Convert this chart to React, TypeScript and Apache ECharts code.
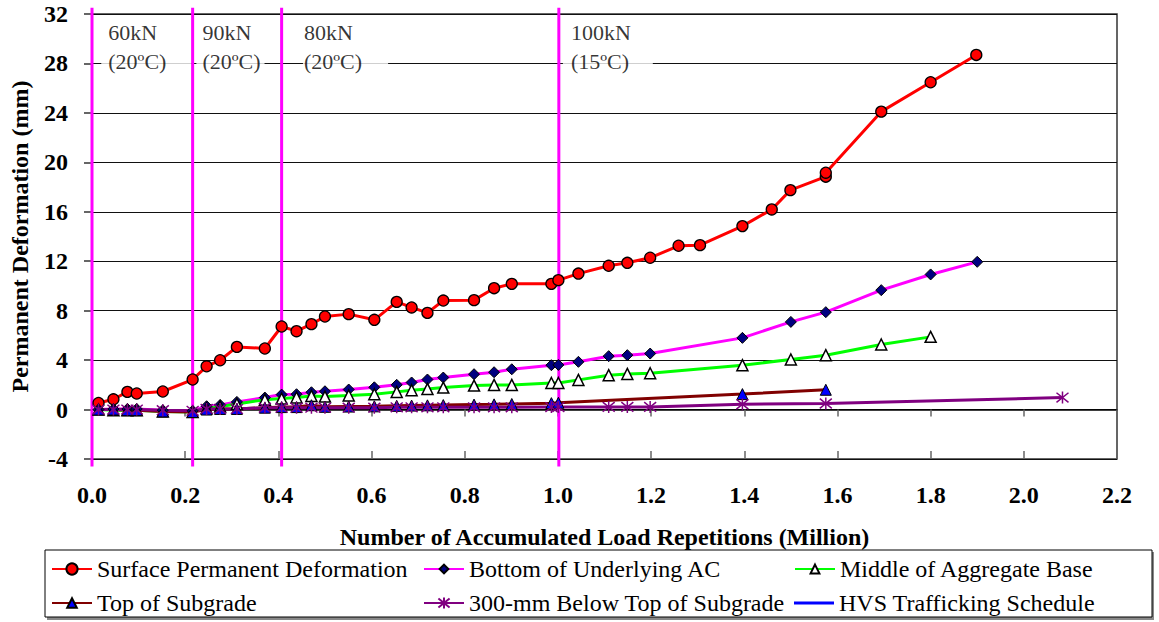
import React, { useEffect, useRef } from "react";
import * as echarts from "echarts";

const FONT = "Liberation Serif";

// Accumulated load repetitions (million)
const surfaceX = [0.014, 0.046, 0.076, 0.096, 0.152, 0.216, 0.246, 0.275, 0.311, 0.371, 0.407, 0.439, 0.471, 0.5, 0.551, 0.606, 0.654, 0.686, 0.72, 0.754, 0.82, 0.863, 0.901, 0.986, 1.001, 1.044, 1.109, 1.149, 1.198, 1.259, 1.305, 1.396, 1.459, 1.499, 1.575, 1.575, 1.694, 1.8, 1.898];
const surfaceY = [0.53, 0.83, 1.43, 1.3, 1.46, 2.43, 3.5, 3.99, 5.07, 4.94, 6.72, 6.34, 6.91, 7.53, 7.72, 7.26, 8.71, 8.26, 7.82, 8.82, 8.85, 9.82, 10.17, 10.17, 10.47, 11.0, 11.63, 11.87, 12.28, 13.25, 13.3, 14.84, 16.19, 17.75, 18.84, 19.16, 24.1, 26.48, 28.69];

const acX = [0.014, 0.046, 0.076, 0.096, 0.152, 0.216, 0.246, 0.275, 0.311, 0.371, 0.407, 0.439, 0.471, 0.5, 0.551, 0.606, 0.654, 0.686, 0.72, 0.754, 0.82, 0.863, 0.901, 0.986, 1.001, 1.044, 1.109, 1.149, 1.198, 1.396, 1.5, 1.575, 1.694, 1.8, 1.9];
const acY = [0.0, 0.05, 0.05, 0.05, -0.05, -0.1, 0.27, 0.37, 0.62, 0.97, 1.21, 1.24, 1.4, 1.48, 1.62, 1.8, 2.0, 2.19, 2.43, 2.59, 2.86, 3.02, 3.26, 3.59, 3.61, 3.86, 4.32, 4.4, 4.53, 5.8, 7.09, 7.88, 9.66, 10.93, 11.95];

const baseX = [0.014, 0.046, 0.076, 0.096, 0.152, 0.216, 0.246, 0.275, 0.311, 0.371, 0.407, 0.439, 0.471, 0.5, 0.551, 0.606, 0.654, 0.686, 0.72, 0.754, 0.82, 0.863, 0.901, 0.986, 1.001, 1.044, 1.109, 1.149, 1.198, 1.396, 1.5, 1.575, 1.694, 1.8];
const baseY = [0.0, -0.05, -0.05, -0.05, -0.15, -0.2, 0.1, 0.25, 0.45, 0.8, 0.89, 0.98, 1.1, 1.05, 1.14, 1.24, 1.43, 1.56, 1.67, 1.78, 1.94, 1.99, 1.99, 2.15, 2.15, 2.4, 2.78, 2.88, 2.94, 3.59, 4.05, 4.4, 5.26, 5.88];

const subgradeX = [0.014, 0.046, 0.076, 0.096, 0.152, 0.216, 0.246, 0.275, 0.311, 0.371, 0.407, 0.439, 0.471, 0.5, 0.551, 0.606, 0.654, 0.686, 0.72, 0.754, 0.82, 0.863, 0.901, 0.986, 1.001, 1.396, 1.575];
const subgradeY = [0.0, 0.0, -0.05, -0.05, -0.15, -0.2, 0.0, 0.05, 0.05, 0.15, 0.2, 0.2, 0.35, 0.22, 0.24, 0.26, 0.3, 0.32, 0.34, 0.36, 0.4, 0.42, 0.45, 0.52, 0.55, 1.25, 1.6];

const deepX = [0.014, 0.046, 0.076, 0.096, 0.152, 0.216, 0.246, 0.275, 0.311, 0.371, 0.407, 0.439, 0.471, 0.5, 0.551, 0.606, 0.654, 0.686, 0.72, 0.754, 0.82, 0.863, 0.901, 0.986, 1.001, 1.109, 1.149, 1.198, 1.396, 1.575, 2.083];
const deepY = [0.0, 0.0, 0.0, 0.0, -0.05, -0.1, 0.05, 0.05, 0.05, 0.15, 0.15, 0.15, 0.15, 0.15, 0.15, 0.15, 0.18, 0.18, 0.18, 0.18, 0.18, 0.18, 0.18, 0.2, 0.2, 0.21, 0.21, 0.21, 0.43, 0.49, 0.97];

// HVS trafficking schedule (load changes)
const scheduleX = [0.0, 0.216, 0.407, 1.002];
const scheduleSpan = [-4.6, 32.5];
const scheduleLabels = ["60kN\n(20ºC)", "90kN\n(20ºC)", "80kN\n(20ºC)", "100kN\n(15ºC)"];
const scheduleLabelX = [0.036, 0.238, 0.456, 1.029];
const scheduleLabelY = 29.3;

const xTicks = { min: 0, max: 2.2, interval: 0.2 };
const yTicks = { min: -4, max: 32, interval: 4 };

const NAMES = [
  "Surface Permanent Deformation",
  "Bottom of Underlying AC",
  "Middle of Aggregate Base",
  "Top of Subgrade",
  "300-mm Below Top of Subgrade",
  "HVS Trafficking Schedule",
];

const STAR = "path://M5,0L5,10M1,1L9,9M1,9L9,1";

const pairs = (xs: number[], ys: number[]) => xs.map((x, i) => [x, ys[i]]);

export default function App() {
  const ref = useRef<HTMLDivElement>(null);
  useEffect(() => {
    const chart = echarts.init(ref.current!, null, { renderer: "svg" });

    const scheduleData: any[] = [];
    scheduleX.forEach((x) => {
      scheduleData.push([x, scheduleSpan[0]], [x, scheduleSpan[1]], [x, "-"]);
    });

    const boxPad = [
      [2, 25, 2, 7],
      [2, 4, 2, 6],
      [2, 26, 2, 1],
      [2, 22, 2, 8],
    ];

    const lineSeries = (name: string, data: any[], color: string, symbol: string, symbolSize: number, itemStyle: any) => ({
      type: "line",
      name,
      data,
      xAxisIndex: 0,
      symbol,
      symbolSize,
      showAllSymbol: true,
      lineStyle: { color, width: 3 },
      itemStyle,
      emphasis: { disabled: true },
      z: 3,
    });

    const legendText = { fontFamily: FONT, fontSize: 24, color: "#000", lineHeight: 24 };
    const mkLegend = (name: string, left: number, top: number, extra: any = {}) => ({
      data: [name],
      left,
      top,
      padding: 0,
      itemWidth: 40,
      itemHeight: 14,
      textStyle: legendText,
      selectedMode: false,
      ...extra,
    });

    const option: any = {
      animation: false,
      backgroundColor: "#fff",
      textStyle: { fontFamily: FONT },
      grid: {
        left: 90,
        right: 42,
        top: 14,
        bottom: 163,
        show: true,
        borderColor: "#333",
        borderWidth: 1.5,
      },
      xAxis: [
        {
          type: "value",
          ...xTicks,
          axisLine: { show: true, lineStyle: { color: "#000", width: 1.5 } },
          axisTick: { show: true, length: 7, lineStyle: { color: "#666", width: 1.5 } },
          axisLabel: {
            fontFamily: FONT,
            fontSize: 24,
            fontWeight: "bold",
            color: "#000",
            margin: 24,
            formatter: (v: number) => v.toFixed(1),
          },
          splitLine: { show: false },
          name: "Number of Accumulated Load Repetitions (Million)",
          nameLocation: "middle",
          nameGap: 66,
          nameTextStyle: { fontFamily: FONT, fontSize: 24, fontWeight: "bold", color: "#000" },
        },
        {
          type: "value",
          ...xTicks,
          position: "bottom",
          axisLine: { show: false },
          axisTick: { show: true, inside: true, length: 8, lineStyle: { color: "#666", width: 1.5 } },
          axisLabel: { show: false },
          splitLine: { show: false },
        },
      ],
      yAxis: {
        type: "value",
        ...yTicks,
        axisLine: { show: true, lineStyle: { color: "#000", width: 1 } },
        axisTick: { show: true, length: 8, lineStyle: { color: "#333", width: 1.5 } },
        axisLabel: {
          fontFamily: FONT,
          fontSize: 24,
          fontWeight: "bold",
          color: "#000",
          margin: 24,
        },
        splitLine: { show: true, lineStyle: { color: "#111", width: 1 } },
        name: "Permanent Deformation (mm)",
        nameLocation: "middle",
        nameGap: 60,
        nameTextStyle: { fontFamily: FONT, fontSize: 24, fontWeight: "bold", color: "#000" },
      },
      legend: [
        mkLegend(NAMES[0], 51, 557),
        mkLegend(NAMES[1], 423, 557, { itemHeight: 11 }),
        mkLegend(NAMES[2], 794, 557, { itemHeight: 11 }),
        mkLegend(NAMES[3], 51, 591, { itemHeight: 12 }),
        mkLegend(NAMES[4], 423, 591),
        mkLegend(NAMES[5], 794, 591, { icon: "rect", itemHeight: 3, itemStyle: { color: "#0000FF", borderWidth: 0 } }),
      ],
      graphic: [
        { type: "rect", z: 0, shape: { x: 47, y: 552, width: 1107, height: 68 }, style: { fill: "#888" } },
        { type: "rect", z: 1, shape: { x: 45, y: 550, width: 1107, height: 67 }, style: { fill: "#fff", stroke: "#000", lineWidth: 1 } },
      ],
      series: [
        {
          type: "scatter",
          name: "schedule-labels",
          data: scheduleLabelX.map((x, i) => ({
            value: [x, scheduleLabelY],
            label: { padding: boxPad[i], position: [-boxPad[i][3], 0] },
          })),
          symbolSize: 1,
          itemStyle: { color: "rgba(0,0,0,0)" },
          silent: true,
          z: 1,
          label: {
            show: true,
            formatter: (p: any) => scheduleLabels[p.dataIndex],
            align: "left",
            verticalAlign: "middle",
            fontFamily: FONT,
            fontSize: 22,
            lineHeight: 29,
            color: "#000",
            backgroundColor: "#fff",
          },
        },
        {
          type: "line",
          name: NAMES[5],
          data: scheduleData,
          symbol: "none",
          clip: false,
          connectNulls: false,
          lineStyle: { color: "#FF00FF", width: 3 },
          itemStyle: { color: "#0000FF" },
          emphasis: { disabled: true },
          z: 2,
        },
        lineSeries(NAMES[0], pairs(surfaceX, surfaceY), "#FF0000", "circle", 11, {
          color: "#FF0000",
          borderColor: "#000",
          borderWidth: 1.3,
        }),
        lineSeries(NAMES[1], pairs(acX, acY), "#FF00FF", "diamond", 11, {
          color: "#000080",
          borderColor: "#000",
          borderWidth: 1,
        }),
        lineSeries(NAMES[2], pairs(baseX, baseY), "#00FF00", "triangle", 11, {
          color: "#FFFFFF",
          borderColor: "#000",
          borderWidth: 1.5,
        }),
        lineSeries(NAMES[3], pairs(subgradeX, subgradeY), "#800000", "triangle", 11, {
          color: "#0000FF",
          borderColor: "#000",
          borderWidth: 1,
        }),
        lineSeries(NAMES[4], pairs(deepX, deepY), "#800080", STAR, 12, {
          color: "rgba(0,0,0,0)",
          borderColor: "#800080",
          borderWidth: 1.5,
        }),
      ],
    };

    chart.setOption(option);
    return () => chart.dispose();
  }, []);

  return (
    <div
      ref={ref}
      style={{ position: "fixed", left: 0, top: 0, width: 1159, height: 622, background: "#fff" }}
    />
  );
}
